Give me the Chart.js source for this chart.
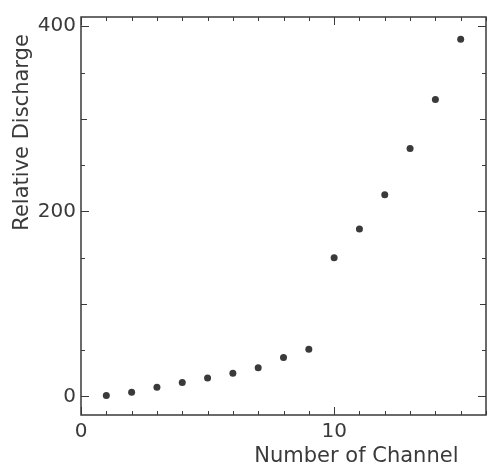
<!DOCTYPE html>
<html>
<head>
<meta charset="utf-8">
<script src="https://cdn.jsdelivr.net/npm/chart.js@4/dist/chart.umd.min.js"></script>
<style>
  body { margin: 0; background: #fff; }
  #chart { display: block; }
</style>
</head>
<body>
<canvas id="chart" width="490" height="468"></canvas>
<script>
"use strict";
///////////////////////////////
//Data
const channels = [1, 2, 3, 4, 5, 6, 7, 8, 9, 10, 11, 12, 13, 14, 15];
const discharge = [1, 4.5, 10, 15, 20, 25, 31, 42, 51, 150, 181, 218, 268, 321, 386];
const xTickValues = [0, 1, 2, 3, 4, 5, 6, 7, 8, 9, 10, 11, 12, 13, 14, 15, 16];
const xTickLabels = [0, 10];
const yTickValues = [0, 50, 100, 150, 200, 250, 300, 350, 400];
const yTickLabels = [0, 200, 400];
const xTitle = "Number of Channel";
const yTitle = "Relative Discharge";

//////////////////////////////
//Styles
const ink = "#3a3a3a";
const fontFamily = "'DejaVu Sans', sans-serif";

// frame, inward tick marks and axis titles
const framePlugin = {
  id: "frame",
  afterDraw(chart) {
    const ctx = chart.ctx;
    const a = chart.chartArea;
    const xs = chart.scales.x;
    const ys = chart.scales.y;
    ctx.save();
    ctx.strokeStyle = ink;
    ctx.lineWidth = 1.5;
    ctx.strokeRect(a.left, a.top, a.right - a.left, a.bottom - a.top);

    ctx.lineWidth = 1;
    ctx.beginPath();
    xTickValues.forEach(function (v) {
      const px = Math.round(xs.getPixelForValue(v)) + 0.5;
      const len = v % 10 === 0 ? 8 : 4;
      ctx.moveTo(px, a.bottom);
      ctx.lineTo(px, a.bottom - len);
      ctx.moveTo(px, a.top);
      ctx.lineTo(px, a.top + len);
    });
    yTickValues.forEach(function (v) {
      const py = Math.round(ys.getPixelForValue(v)) + 0.5;
      const len = v % 200 === 0 ? 8 : v % 100 === 0 ? 6 : 4;
      ctx.moveTo(a.left, py);
      ctx.lineTo(a.left + len, py);
      ctx.moveTo(a.right, py);
      ctx.lineTo(a.right - len, py);
    });
    ctx.stroke();

    // axis titles
    ctx.fillStyle = ink;
    ctx.font = "21px " + fontFamily;
    ctx.textAlign = "center";
    ctx.textBaseline = "alphabetic";
    ctx.fillText(xTitle, a.left + (a.right - a.left) * 0.68, 462);

    ctx.translate(23, a.top + (a.bottom - a.top) * 0.29);
    ctx.rotate(-Math.PI / 2);
    ctx.textBaseline = "middle";
    ctx.fillText(yTitle, 0, 0);
    ctx.restore();
  },
};

//////////////////////////////
//Chart
const points = channels.map(function (c, i) {
  return { x: c, y: discharge[i] };
});

new Chart(document.getElementById("chart"), {
  type: "scatter",
  data: {
    datasets: [
      {
        data: points,
        backgroundColor: ink,
        borderWidth: 0,
        pointRadius: 3.5,
      },
    ],
  },
  options: {
    responsive: false,
    animation: false,
    devicePixelRatio: 1,
    layout: { padding: { top: 10, right: 3, left: 0, bottom: 0 } },
    plugins: {
      legend: { display: false },
      tooltip: { enabled: false },
    },
    scales: {
      x: {
        type: "linear",
        min: 0,
        max: 16,
        afterBuildTicks: function (scale) {
          scale.ticks = xTickLabels.map(function (v) {
            return { value: v };
          });
        },
        afterFit: function (scale) {
          scale.height = 53;
        },
        grid: { display: false, drawTicks: false },
        border: { display: false },
        ticks: {
          padding: 5,
          color: ink,
          font: { family: fontFamily, size: 20 },
          maxRotation: 0,
          autoSkip: false,
        },
      },
      y: {
        type: "linear",
        min: -20,
        max: 410,
        afterBuildTicks: function (scale) {
          scale.ticks = yTickLabels.map(function (v) {
            return { value: v };
          });
        },
        afterFit: function (scale) {
          scale.width = 81;
        },
        grid: { display: false, drawTicks: false },
        border: { display: false },
        ticks: {
          padding: 5,
          color: ink,
          font: { family: fontFamily, size: 20 },
          autoSkip: false,
        },
      },
    },
  },
  plugins: [framePlugin],
});
</script>
</body>
</html>
